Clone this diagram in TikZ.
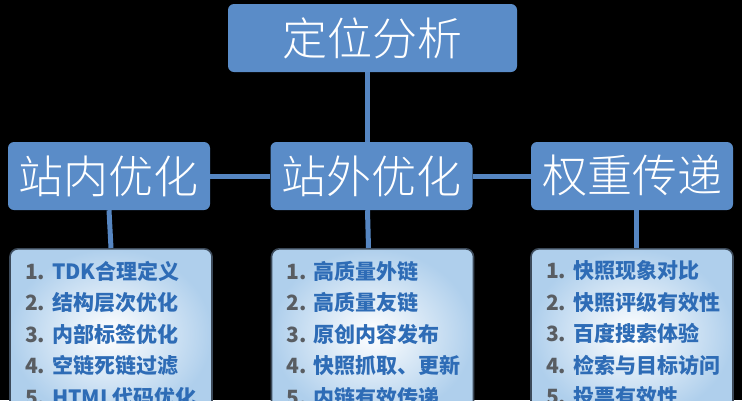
\documentclass[tikz,border=0pt]{standalone}
\usepackage{fontspec}
\newfontfamily\cjk{Noto Sans CJK SC}
\newfontfamily\cjkthin{Noto Sans CJK SC}[UprightFont={* Light}]
\usetikzlibrary{positioning}
\definecolor{headblue}{HTML}{5A8CC8}
\definecolor{linkblue}{HTML}{5686C2}
\definecolor{listblue}{HTML}{2E6CB6}
\definecolor{listgray}{HTML}{595D62}
\definecolor{paleblue}{HTML}{AFCFEC}
\definecolor{edgegray}{HTML}{3C4A5A}
\newcommand{\itemno}[1]{\textcolor{listgray}{#1.}~}
\tikzset{
  head/.style={fill=headblue, rounded corners=6pt, text=white, inner sep=0pt,
    minimum height=68pt, font=\cjkthin\fontsize{45}{45}\selectfont},
  listbox/.style={draw=edgegray, line width=1.6pt, rounded corners=8pt,
    inner color=white, outer color=paleblue, anchor=north, align=left,
    text width=172pt, inner xsep=15pt, inner ysep=12pt, text=listblue,
    font=\cjk\bfseries\fontsize{21}{31.5}\selectfont},
  link/.style={draw=linkblue, line width=5pt}
}
\begin{document}
\begin{tikzpicture}[x=1pt,y=-1pt,line join=round]
\useasboundingbox (0,0) rectangle (742,400);
\clip (0,0) rectangle (742,400);
\fill[black] (0,0) rectangle (742,400);
% headings
\node[head, minimum width=289pt] (T) at (372.5,38) {定位分析};
\foreach \n/\x/\t in {L/109/站内优化, M/371.5/站外优化, R/632/权重传递}
  {\node[head, minimum width=202pt] (\n) at (\x,176) {\t};}
% lists
\node[listbox] (LL) at (111,248) {\itemno{1}TDK合理定义\\ \itemno{2}结构层次优化\\
  \itemno{3}内部标签优化\\ \itemno{4}空链死链过滤\\ \itemno{5}HTML代码优化};
\node[listbox] (ML) at (372.5,248) {\itemno{1}高质量外链\\ \itemno{2}高质量友链\\
  \itemno{3}原创内容发布\\ \itemno{4}快照抓取、更新\\ \itemno{5}内链有效传递};
\node[listbox] (RL) at (632,248) {\itemno{1}快照现象对比\\ \itemno{2}快照评级有效性\\
  \itemno{3}百度搜索体验\\ \itemno{4}检索与目标访问\\ \itemno{5}投票有效性};
% connectors
\draw[link] ([xshift=-5pt]T.south) -- ([xshift=-4pt]M.north);
\draw[link] (L.east) -- (M.west);
\draw[link] (M.east) -- (R.west);
\draw[link] (L.south) -- (LL.north);
\draw[link] ([xshift=-4pt]M.south) -- ([xshift=-4pt]ML.north);
\draw[link] ([xshift=4pt]R.south) -- ([xshift=4pt]RL.north);
\end{tikzpicture}
\end{document}
